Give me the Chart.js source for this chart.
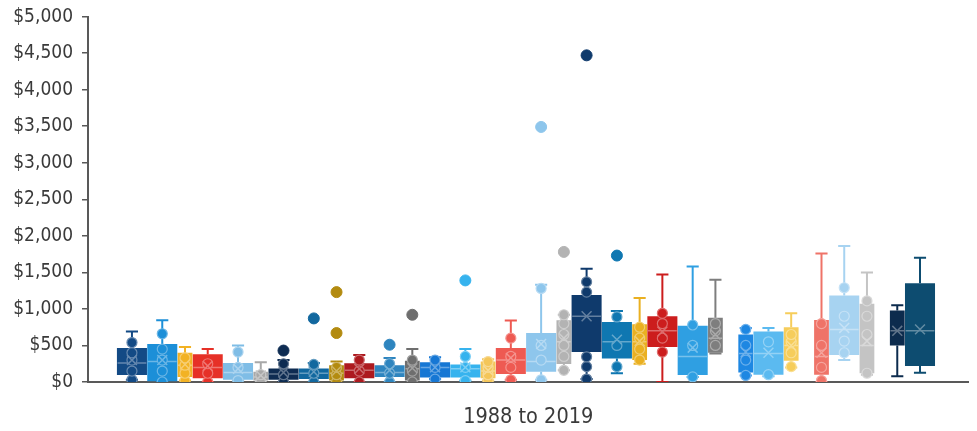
<!DOCTYPE html>
<html>
<head>
<meta charset="utf-8">
<script src="https://cdn.jsdelivr.net/npm/chart.js@4.4.1/dist/chart.umd.min.js"></script>
<style>
html, body { margin: 0; padding: 0; background: #fff; }
#wrap { width: 977px; height: 431px; }
</style>
</head>
<body>
<div id="wrap"><canvas id="boxChart" width="977" height="431"></canvas></div>
<script>
/*--------------------------------------------------------------------
Box & whisker, one series per year
--------------------------------------------------------------------*/
const categoryLabel = "1988 to 2019";

const years = ["1988", "1989", "1990", "1991", "1992", "1993", "1994", "1995",
    "1996", "1997", "1998", "1999", "2000", "2001", "2002", "2003",
    "2004", "2005", "2006", "2007", "2008", "2009", "2010", "2011",
    "2012", "2013", "2014", "2015", "2016", "2017", "2018", "2019"];

const whiskerLow  = [30, 0, 20, 0, 20, 0, 0, 0, 0, 0, 0, 0, 40, 20, 20, 30,
    30, 160, 40, 120, 250, 0, 70, 390, 90, 80, 200, 0, 300, 100, 80, 125];
const quartile1   = [95, 10, 70, 50, 30, 20, 30, 40, 20, 50, 70, 20, 60, 60, 50, 110,
    140, 245, 410, 320, 300, 480, 95, 400, 130, 100, 290, 100, 370, 120, 500, 220];
const medians     = [260, 280, 230, 200, 130, 70, 110, 120, 120, 160, 130, 180, 200, 180, 150, 300,
    280, 550, 900, 550, 550, 700, 350, 600, 390, 390, 500, 350, 720, 500, 700, 700];
const quartile3   = [465, 520, 400, 380, 260, 140, 185, 185, 230, 255, 230, 290, 270, 240, 280, 465,
    670, 845, 1190, 820, 790, 900, 770, 880, 650, 690, 750, 850, 1185, 1070, 980, 1350];
const whiskerHigh = [690, 845, 480, 450, 500, 270, 300, 260, 280, 370, 330, 450, 340, 450, 310, 840,
    1330, 920, 1550, 970, 1150, 1470, 1580, 1400, 740, 740, 940, 1760, 1860, 1500, 1050, 1700];
const means       = [300, 300, 240, 220, 180, 90, 130, 140, 150, 180, 160, 190, 200, 200, 160, 330,
    520, 600, 900, 580, 560, 690, 470, 650, 410, 400, 500, 400, 740, 560, 700, 720];

const innerPoints = [
    [30, 150, 300, 400, 540], [0, 150, 300, 450, 660], [20, 120, 230, 330], [0, 120, 250],
    [20, 200, 410], [0, 100], [0, 100, 250], [0, 120, 240],
    [0, 100, 200], [0, 150, 300], [0, 120, 250], [0, 150, 300],
    [40, 200, 300], [20, 200, 350], [20, 100, 200, 280], [30, 200, 350, 600],
    [30, 300, 500, 1280], [160, 350, 500, 650, 800, 920], [40, 210, 345, 1230, 1370], [210, 500, 890],
    [300, 450, 600, 750], [410, 600, 800, 940], [70, 500, 780], [500, 700, 800],
    [90, 300, 500, 720], [100, 550], [210, 400, 550, 650], [20, 200, 500, 800],
    [400, 560, 900, 1290], [120, 650, 900, 1110], [], []
];
const outliers = [
    [], [], [], [], [], [], [430], [870],
    [670, 1230], [], [510], [920], [], [1390], [], [],
    [3490], [1780], [4470], [1730], [], [], [], [],
    [], [], [], [], [], [], [], []
];

const yTicks = { min: 0, max: 5000, step: 500 };

/* layout + styles ------------------------------------------------ */
const colors = ["#134a85", "#1c8fd8", "#f2b224", "#e63027", "#7fbde6", "#a8a8a8", "#0e2c52", "#12689f",
    "#b38b10", "#ad1a1f", "#2e85bf", "#6e6e6e", "#1677d4", "#36b3ee", "#f4c65a", "#ee5a52",
    "#8ec6ec", "#b3b3b3", "#0f3a6c", "#0f77b1", "#eab021", "#cc1d1d", "#2f9fe2", "#7e7e7e",
    "#1e87e2", "#5bbaf0", "#f6cd5b", "#ef7368", "#a7d3f1", "#c4c4c4", "#0c2b4d", "#0d4c70"];
const slotWidths = [2, 2, 1, 2, 2, 1, 2, 2, 1, 2, 2, 1, 2, 2, 1, 2, 2, 1, 2, 2, 1, 2, 2, 1,
    1, 2, 1, 1, 2, 1, 1, 2];
const gapBefore = [24, 27, 30];
const unitPx = 15.27;
const capHalf = 0.4;
const fontFamily = "'DejaVu Sans Condensed', 'DejaVu Sans', sans-serif";

function tint(hex, t) {
    const n = parseInt(hex.slice(1), 16);
    const mix = v => Math.round(v + (255 - v) * t);
    return `rgb(${mix(n >> 16)}, ${mix((n >> 8) & 255)}, ${mix(n & 255)})`;
}

const centers = [];
let pos = 0;
slotWidths.forEach((w, i) => {
    if (gapBefore.includes(i)) pos += 1;
    centers.push(pos + w / 2);
    pos += w;
});

const datasets = [];
years.forEach((yr, i) => {
    const c = centers[i];
    const w = slotWidths[i];
    const col = colors[i];
    const ring = tint(col, 0.35);

    // box
    datasets.push({
        type: "bar", label: yr, order: 4,
        data: [{ x: c, y: [quartile1[i], quartile3[i]] }],
        backgroundColor: col, borderWidth: 0,
        grouped: false, barPercentage: 4, categoryPercentage: 1,
        maxBarThickness: w * unitPx - 0.5
    });

    // whiskers
    const wk = [];
    if (whiskerHigh[i] > quartile3[i]) {
        wk.push({ x: c, y: quartile3[i] }, { x: c, y: whiskerHigh[i] }, { x: c, y: null },
            { x: c - capHalf, y: whiskerHigh[i] }, { x: c + capHalf, y: whiskerHigh[i] }, { x: c, y: null });
    }
    if (whiskerLow[i] < quartile1[i]) {
        wk.push({ x: c, y: quartile1[i] }, { x: c, y: whiskerLow[i] }, { x: c, y: null },
            { x: c - capHalf, y: whiskerLow[i] }, { x: c + capHalf, y: whiskerLow[i] });
    }
    datasets.push({
        type: "line", order: 3, data: wk,
        borderColor: col, borderWidth: 2, pointRadius: 0, spanGaps: false, fill: false
    });

    // median
    datasets.push({
        type: "line", order: 2,
        data: [{ x: c - w / 2 + 0.05, y: medians[i] }, { x: c + w / 2 - 0.05, y: medians[i] }],
        borderColor: ring, borderWidth: 1.5, pointRadius: 0, fill: false
    });

    // inner points
    datasets.push({
        type: "scatter", order: 1,
        data: innerPoints[i].map(v => ({ x: c, y: v })),
        backgroundColor: col, borderColor: ring, borderWidth: 1.2, pointRadius: 5
    });

    // outliers
    datasets.push({
        type: "scatter", order: 1,
        data: outliers[i].map(v => ({ x: c, y: v })),
        backgroundColor: col, borderColor: col, borderWidth: 1, pointRadius: 5.5
    });

    // mean marker
    datasets.push({
        type: "scatter", order: 0,
        data: [{ x: c, y: means[i] }],
        pointStyle: "crossRot", pointRadius: 7,
        borderColor: ring, borderWidth: 1.5, backgroundColor: ring
    });
});

const axisColor = "#595959";
const textColor = "#3a3a3a";

new Chart(document.getElementById("boxChart"), {
    type: "bar",
    data: { datasets },
    options: {
        responsive: false,
        animation: false,
        layout: { padding: { top: 4, right: 2, left: 0, bottom: 0 } },
        plugins: { legend: { display: false }, tooltip: { enabled: false } },
        scales: {
            x: {
                type: "linear", min: -1.9, max: 56.2, offset: false,
                ticks: { display: false },
                grid: { display: false, drawTicks: false },
                border: { display: true, color: axisColor, width: 2 },
                title: {
                    display: true, text: categoryLabel, color: textColor,
                    font: { family: fontFamily, size: 21.5 },
                    padding: { top: 0, bottom: 1 }
                },
                afterFit: s => { s.height = 49; }
            },
            y: {
                min: yTicks.min, max: yTicks.max,
                ticks: {
                    stepSize: yTicks.step, color: textColor, padding: 9,
                    font: { family: fontFamily, size: 19, lineHeight: 0.8 },
                    callback: v => "$" + Number(v).toLocaleString("en-US")
                },
                grid: { display: true, drawOnChartArea: false, drawTicks: true, tickLength: 6, color: axisColor, lineWidth: 1.5 },
                border: { display: true, color: axisColor, width: 2 },
                afterFit: s => { s.width = 88; }
            }
        }
    }
});
</script>
</body>
</html>
